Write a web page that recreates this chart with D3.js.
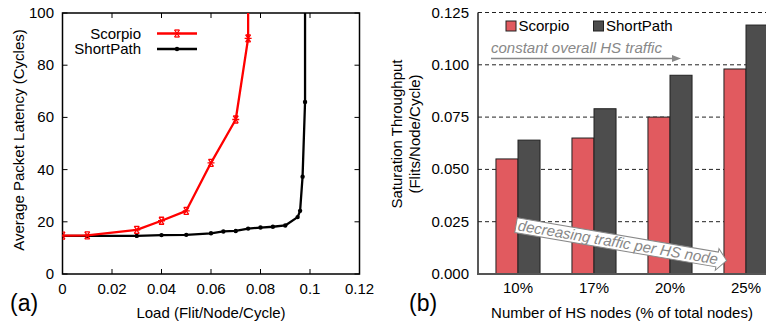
<!DOCTYPE html>
<html>
<head>
<meta charset="utf-8">
<script src="https://cdn.jsdelivr.net/npm/d3@7"></script>
<style>
  body { margin: 0; background: #fff; }
  svg { display: block; font-family: "Liberation Sans", Arial, sans-serif; }
</style>
</head>
<body>
<svg id="chart" width="766" height="323"></svg>
<script>
// (a) latency vs load
const loadScorpio = [0, 0.01, 0.03, 0.04, 0.05, 0.06, 0.07, 0.075, 0.075];
const latScorpio = [14.7, 14.8, 16.9, 20.4, 24.2, 42.6, 59.2, 90.3, 300];
const loadShort = [0, 0.01, 0.03, 0.04, 0.05, 0.06, 0.065, 0.07, 0.075, 0.08, 0.085, 0.09, 0.095, 0.096, 0.097, 0.098, 0.098];
const latShort = [14.6, 14.6, 14.6, 14.9, 15.0, 15.6, 16.3, 16.5, 17.4, 17.8, 18.1, 18.6, 21.8, 24.2, 37.3, 65.9, 300];
const loadTicks = [0, 0.02, 0.04, 0.06, 0.08, 0.1, 0.12];
const latTicks = [0, 20, 40, 60, 80, 100];

// (b) saturation throughput
const hsNodes = ["10%", "17%", "20%", "25%"];
const satScorpio = [0.055, 0.065, 0.075, 0.098];
const satShort = [0.064, 0.079, 0.095, 0.119];
const satTicks = [0, 0.025, 0.05, 0.075, 0.1, 0.125];

const svg = d3.select("#chart");
const font = 15;

// ---------- panel (a) ----------
const ax = d3.scaleLinear().domain([0, 0.12]).range([62.5, 359.5]);
const ay = d3.scaleLinear().domain([0, 100]).range([274, 13]);

svg.append("clipPath").attr("id", "clipA")
  .append("rect").attr("x", ax(0)).attr("y", ay(100))
  .attr("width", ax(0.12) - ax(0)).attr("height", ay(0) - ay(100));

const gA = svg.append("g");

// inward ticks on all four sides
loadTicks.forEach(t => {
  gA.append("line").attr("x1", ax(t)).attr("x2", ax(t)).attr("y1", ay(0)).attr("y2", ay(0) - 5)
    .attr("stroke", "#000").attr("stroke-width", 1);
  gA.append("line").attr("x1", ax(t)).attr("x2", ax(t)).attr("y1", ay(100)).attr("y2", ay(100) + 5)
    .attr("stroke", "#000").attr("stroke-width", 1);
  gA.append("text").attr("x", ax(t)).attr("y", 294).attr("text-anchor", "middle")
    .attr("font-size", font).attr("fill", "#000").text(t === 0 ? "0" : String(+t.toFixed(2)));
});
latTicks.forEach(t => {
  gA.append("line").attr("x1", ax(0)).attr("x2", ax(0) + 5).attr("y1", ay(t)).attr("y2", ay(t))
    .attr("stroke", "#000").attr("stroke-width", 1);
  gA.append("line").attr("x1", ax(0.12)).attr("x2", ax(0.12) - 5).attr("y1", ay(t)).attr("y2", ay(t))
    .attr("stroke", "#000").attr("stroke-width", 1);
  gA.append("text").attr("x", 54).attr("y", ay(t) + 5).attr("text-anchor", "end")
    .attr("font-size", font).attr("fill", "#000").text(t);
});

gA.append("rect").attr("x", ax(0)).attr("y", ay(100))
  .attr("width", ax(0.12) - ax(0)).attr("height", ay(0) - ay(100))
  .attr("fill", "none").attr("stroke", "#000").attr("stroke-width", 1.5);

const line = d3.line().x(d => ax(d[0])).y(d => ay(d[1]));
const ptsS = loadScorpio.map((v, i) => [v, latScorpio[i]]);
const ptsB = loadShort.map((v, i) => [v, latShort[i]]);

const plot = gA.append("g").attr("clip-path", "url(#clipA)");

function starMark(g, x, y, color) {
  const s = 3.5;
  [[-s, 0, s, 0], [-s * 0.7, -s, s * 0.7, s], [-s * 0.7, s, s * 0.7, -s], [-s * 0.7, -s, s * 0.7, -s], [-s * 0.7, s, s * 0.7, s]]
    .forEach(l => g.append("line").attr("x1", x + l[0]).attr("y1", y + l[1]).attr("x2", x + l[2]).attr("y2", y + l[3])
      .attr("stroke", color).attr("stroke-width", 1.3));
}
function dotMark(g, x, y, color) {
  g.append("circle").attr("cx", x).attr("cy", y).attr("r", 2.2).attr("fill", color);
}

plot.append("path").datum(ptsB).attr("d", line).attr("fill", "none")
  .attr("stroke", "#000").attr("stroke-width", 2.3).attr("stroke-linejoin", "round");
ptsB.forEach(p => dotMark(plot, ax(p[0]), ay(p[1]), "#000"));
plot.append("path").datum(ptsS).attr("d", line).attr("fill", "none")
  .attr("stroke", "#ff0000").attr("stroke-width", 2.3).attr("stroke-linejoin", "round");
ptsS.forEach(p => starMark(plot, ax(p[0]), ay(p[1]), "#ff0000"));

// legend (a)
const legA = [["Scorpio", "#ff0000", starMark, 33.5], ["ShortPath", "#000", dotMark, 49]];
legA.forEach(l => {
  gA.append("text").attr("x", 141).attr("y", l[3] + 5).attr("text-anchor", "end")
    .attr("font-size", font).attr("fill", "#000").text(l[0]);
  gA.append("line").attr("x1", 157).attr("x2", 197).attr("y1", l[3]).attr("y2", l[3])
    .attr("stroke", l[1]).attr("stroke-width", 2.3);
  l[2](gA, 177, l[3], l[1]);
});

gA.append("text").attr("transform", "translate(24,140) rotate(-90)").attr("text-anchor", "middle")
  .attr("font-size", font).attr("fill", "#000").text("Average Packet Latency (Cycles)");
gA.append("text").attr("x", 211).attr("y", 318).attr("text-anchor", "middle")
  .attr("font-size", font).attr("fill", "#000").text("Load (Flit/Node/Cycle)");
gA.append("text").attr("x", 10).attr("y", 311).attr("font-size", 23).attr("fill", "#000").text("(a)");

// ---------- panel (b) ----------
const bx = d3.scaleBand().domain(hsNodes).range([480, 784]).paddingInner(0.42).paddingOuter(0.21);
const by = d3.scaleLinear().domain([0, 0.125]).range([274, 12.5]);
const gB = svg.append("g");

satTicks.forEach(t => {
  if (t > 0) {
    gB.append("line").attr("x1", 478).attr("x2", 766).attr("y1", by(t)).attr("y2", by(t))
      .attr("stroke", "#222").attr("stroke-width", 1).attr("stroke-dasharray", "4,3");
  }
  gB.append("text").attr("x", 469).attr("y", by(t) + 5).attr("text-anchor", "end")
    .attr("font-size", font).attr("fill", "#000").text(d3.format(".3f")(t));
});

const bw = bx.bandwidth() / 2;
hsNodes.forEach((c, i) => {
  gB.append("rect").attr("x", bx(c)).attr("y", by(satScorpio[i]))
    .attr("width", bw).attr("height", by(0) - by(satScorpio[i]))
    .attr("fill", "#e15a5f").attr("stroke", "#222").attr("stroke-width", 1);
  gB.append("rect").attr("x", bx(c) + bw).attr("y", by(satShort[i]))
    .attr("width", bw).attr("height", by(0) - by(satShort[i]))
    .attr("fill", "#4d4d4d").attr("stroke", "#222").attr("stroke-width", 1);
  gB.append("text").attr("x", bx(c) + bw).attr("y", 293).attr("text-anchor", "middle")
    .attr("font-size", font).attr("fill", "#000").text(c);
});

gB.append("line").attr("x1", 478).attr("x2", 478).attr("y1", by(0.125)).attr("y2", by(0))
  .attr("stroke", "#222").attr("stroke-width", 1.5);
gB.append("line").attr("x1", 477).attr("x2", 766).attr("y1", by(0)).attr("y2", by(0))
  .attr("stroke", "#555").attr("stroke-width", 2);

// legend (b)
[["Scorpio", "#e15a5f", 506], ["ShortPath", "#4d4d4d", 593.5]].forEach(l => {
  gB.append("rect").attr("x", l[2]).attr("y", 21).attr("width", 10).attr("height", 10)
    .attr("fill", l[1]).attr("stroke", "#222").attr("stroke-width", 1);
  gB.append("text").attr("x", l[2] + 12.5).attr("y", 30.5).attr("font-size", font)
    .attr("fill", "#000").text(l[0]);
});

// annotation: constant overall HS traffic
gB.append("text").attr("x", 491).attr("y", 53).attr("font-size", font).attr("font-style", "italic")
  .attr("fill", "#888").text("constant overall HS traffic");
gB.append("line").attr("x1", 491).attr("x2", 676).attr("y1", 58.5).attr("y2", 58.5)
  .attr("stroke", "#888").attr("stroke-width", 1.3);
gB.append("path").attr("d", "M672,55 L681,58.5 L672,62 Z").attr("fill", "#888");

// annotation: decreasing traffic per HS node (rotated block arrow)
const arr = gB.append("g").attr("transform", "translate(517.3,217.7) rotate(9.7)");
arr.append("path")
  .attr("d", "M0,0 L204,0 L204,-3.5 L213.5,7 L204,18.5 L204,15 L0,15 Z")
  .attr("fill", "#fff").attr("stroke", "#888").attr("stroke-width", 1);
arr.append("text").attr("x", 2).attr("y", 12.5).attr("font-size", font).attr("font-style", "italic")
  .attr("fill", "#888").text("decreasing traffic per HS node");

gB.append("text").attr("transform", "translate(402,134) rotate(-90)").attr("text-anchor", "middle")
  .attr("font-size", font).attr("fill", "#000").text("Saturation Throughput");
gB.append("text").attr("transform", "translate(420,134) rotate(-90)").attr("text-anchor", "middle")
  .attr("font-size", font).attr("fill", "#000").text("(Flits/Node/Cycle)");
gB.append("text").attr("x", 622).attr("y", 318).attr("text-anchor", "middle")
  .attr("font-size", font).attr("fill", "#000").text("Number of HS nodes (% of total nodes)");
gB.append("text").attr("x", 409).attr("y", 311).attr("font-size", 23).attr("fill", "#000").text("(b)");
</script>
</body>
</html>
